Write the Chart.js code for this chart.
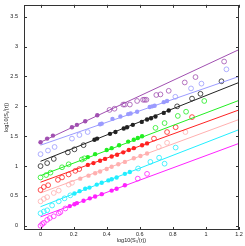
<!DOCTYPE html>
<html>
<head>
<meta charset="utf-8">
<script src="https://cdn.jsdelivr.net/npm/chart.js@4.4.1/dist/chart.umd.min.js"></script>
<style>
  html, body { margin: 0; padding: 0; background: #fff; }
</style>
</head>
<body>
<canvas id="myChart" width="245" height="246"></canvas>
<script>
    // tick labels
    var xTicks = [0, 0.2, 0.4, 0.6, 0.8, 1, 1.2]
    var yTicks = [0, 0.5, 1, 1.5, 2, 2.5, 3, 3.5]

    // fitted lines are drawn from x = 0 to x = 1.2
    var fitX = [0, 1.2]

    // purple
    var purpleFit = [1.40, 2.95]
    var purpleDots = [[0,1.40],[0.04,1.46],[0.075,1.51],[0.19,1.65],[0.22,1.69],[0.27,1.75],[0.343,1.85]]
    var purpleRings = [[0.417,1.94],[0.447,1.96],[0.50,2.03],[0.51,2.03],[0.54,2.03],[0.584,2.09],[0.62,2.11],[0.63,2.11],[0.64,2.11],[0.70,2.19],[0.725,2.20],[0.775,2.26],[0.872,2.40],[0.937,2.49],[1.11,2.75]]

    // lavender
    var lavenderFit = [1.35, 2.50]
    var lavenderDots = [[0.36,1.70],[0.37,1.71],[0.435,1.79],[0.483,1.83],[0.53,1.87],[0.545,1.88],[0.584,1.91],[0.66,1.99],[0.675,2.0],[0.69,2.01],[0.745,2.07],[0.765,2.09]]
    var lavenderRings = [[0,1.20],[0.045,1.26],[0.085,1.32],[0.19,1.46],[0.235,1.52],[0.285,1.57],[0.815,2.16],[0.91,2.30],[0.973,2.38],[1.124,2.62]]

    // black
    var blackFit = [1.08, 2.40]
    var blackDots = [[0.326,1.44],[0.342,1.46],[0.42,1.54],[0.453,1.57],[0.503,1.63],[0.523,1.65],[0.558,1.69],[0.612,1.74],[0.644,1.78],[0.668,1.80],[0.695,1.83],[0.745,1.89],[0.775,1.93]]
    var blackRings = [[0,1.0],[0.04,1.05],[0.08,1.12],[0.165,1.23],[0.205,1.28],[0.26,1.35],[0.826,2.0],[0.916,2.13],[0.967,2.21],[1.094,2.42]]

    // green
    var greenFit = [0.84, 2.10]
    var greenDots = [[0.286,1.15],[0.33,1.20],[0.40,1.27],[0.43,1.30],[0.475,1.35],[0.53,1.41],[0.564,1.44],[0.588,1.47],[0.614,1.50]]
    var greenRings = [[0,0.81],[0.034,0.85],[0.06,0.89],[0.13,0.98],[0.17,1.03],[0.25,1.11],[0.265,1.13],[0.695,1.64],[0.75,1.72],[0.83,1.84],[0.88,1.91],[0.99,2.09]]

    // red
    var redFit = [0.73, 1.94]
    var redDots = [[0.286,1.02],[0.32,1.05],[0.36,1.09],[0.39,1.12],[0.43,1.16],[0.463,1.19],[0.5,1.23],[0.534,1.27],[0.564,1.30],[0.614,1.35],[0.644,1.38]]
    var redRings = [[0,0.60],[0.02,0.65],[0.046,0.68],[0.105,0.77],[0.13,0.81],[0.17,0.86],[0.21,0.92],[0.234,0.95],[0.686,1.46],[0.765,1.57],[0.817,1.65],[0.916,1.82]]

    // pink
    var pinkFit = [0.55, 1.78]
    var pinkDots = [[0.24,0.79],[0.29,0.84],[0.33,0.88],[0.36,0.91],[0.40,0.95],[0.43,0.99],[0.47,1.03],[0.51,1.07],[0.564,1.13],[0.604,1.17],[0.644,1.21]]
    var pinkRings = [[0,0.41],[0.02,0.45],[0.04,0.48],[0.08,0.55],[0.11,0.59],[0.17,0.69],[0.19,0.72],[0.715,1.32],[0.765,1.39],[0.876,1.57]]

    // cyan
    var cyanFit = [0.32, 1.61]
    var cyanDots = [[0.205,0.54],[0.236,0.58],[0.27,0.62],[0.296,0.64],[0.34,0.69],[0.37,0.72],[0.41,0.76],[0.43,0.78],[0.46,0.81],[0.51,0.87],[0.54,0.90]]
    var cyanRings = [[0,0.21],[0.02,0.24],[0.04,0.26],[0.07,0.34],[0.11,0.41],[0.145,0.46],[0.18,0.51],[0.59,0.96],[0.664,1.07],[0.717,1.14],[0.75,1.04],[0.817,1.31]]

    // magenta
    var magentaFit = [0.15, 1.38]
    var magentaDots = [[0.177,0.33],[0.205,0.36],[0.22,0.38],[0.26,0.42],[0.298,0.46],[0.33,0.49],[0.37,0.53],[0.43,0.59],[0.46,0.62],[0.51,0.68]]
    var magentaRings = [[0,0.0],[0.01,0.03],[0.02,0.05],[0.04,0.10],[0.056,0.13],[0.08,0.16],[0.11,0.21],[0.12,0.23],[0.15,0.29],[0.588,0.79],[0.644,0.87]]

    var series = [
        { color: '#a150b1', fit: purpleFit, dots: purpleDots, rings: purpleRings },
        { color: '#9b9bff', fit: lavenderFit, dots: lavenderDots, rings: lavenderRings },
        { color: '#222222', fit: blackFit, dots: blackDots, rings: blackRings },
        { color: '#22ee22', fit: greenFit, dots: greenDots, rings: greenRings },
        { color: '#ff2222', fit: redFit, dots: redDots, rings: redRings },
        { color: '#ffb0b0', fit: pinkFit, dots: pinkDots, rings: pinkRings },
        { color: '#22eeff', fit: cyanFit, dots: cyanDots, rings: cyanRings },
        { color: '#ff22ff', fit: magentaFit, dots: magentaDots, rings: magentaRings }
    ]

    function toXY(list) {
        return list.map(function(p) { return { x: p[0], y: p[1] } })
    }

    var datasets = []
    series.forEach(function(s) {
        datasets.push({
            type: 'line',
            data: fitX.map(function(x, i) { return { x: x, y: s.fit[i] } }),
            borderColor: s.color,
            borderWidth: 1,
            pointRadius: 0,
            fill: false
        })
        datasets.push({
            type: 'scatter',
            data: toXY(s.dots),
            backgroundColor: s.color,
            borderColor: s.color,
            borderWidth: 0,
            pointRadius: 2.2
        })
        datasets.push({
            type: 'scatter',
            data: toXY(s.rings),
            backgroundColor: 'rgba(0,0,0,0)',
            borderColor: s.color,
            borderWidth: 0.8,
            pointRadius: 2.4
        })
    })

    // matlab style box with ticks pointing inwards
    var boxTicks = {
        id: 'boxTicks',
        afterDraw: function(chart) {
            var ctx = chart.ctx
            var a = chart.chartArea
            var xs = chart.scales.x
            var ys = chart.scales.y
            ctx.save()
            ctx.strokeStyle = '#333'
            ctx.lineWidth = 1
            ctx.beginPath()
            xTicks.forEach(function(v) {
                var px = Math.round(xs.getPixelForValue(v)) + 0.5
                ctx.moveTo(px, a.bottom); ctx.lineTo(px, a.bottom - 3)
                ctx.moveTo(px, a.top); ctx.lineTo(px, a.top + 3)
            })
            yTicks.forEach(function(v) {
                var py = Math.round(ys.getPixelForValue(v)) + 0.5
                ctx.moveTo(a.left, py); ctx.lineTo(a.left + 3, py)
                ctx.moveTo(a.right, py); ctx.lineTo(a.right - 3, py)
            })
            ctx.stroke()
            ctx.strokeRect(Math.round(a.left) + 0.5, Math.round(a.top) + 0.5,
                Math.round(a.right - a.left) - 1, Math.round(a.bottom - a.top) - 1)
            ctx.restore()
        }
    }

    var tickFont = { family: 'Liberation Sans', size: 5.5 }

    var ctx = document.getElementById('myChart').getContext('2d');
    var myChart = new Chart(ctx, {
        type: 'scatter',
        data: { datasets: datasets },
        options: {
            responsive: false,
            animation: false,
            devicePixelRatio: 1,
            layout: { padding: { top: 2, right: 6, left: 0, bottom: 0 } },
            plugins: {
                legend: { display: false },
                tooltip: { enabled: false }
            },
            scales: {
                x: {
                    type: 'linear',
                    min: -0.1,
                    max: 1.2,
                    grid: { display: false, drawTicks: false },
                    border: { display: false },
                    afterBuildTicks: function(scale) {
                        scale.ticks = xTicks.map(function(v) { return { value: v } })
                    },
                    afterFit: function(scale) {
                        scale.height = 16
                        scale.paddingLeft = 0
                        scale.paddingRight = 0
                    },
                    ticks: {
                        color: '#222',
                        font: tickFont,
                        padding: 1,
                        maxRotation: 0,
                        autoSkip: false,
                        callback: function(v) { return String(v) }
                    },
                    title: {
                        display: true,
                        text: 'log10(S\u2083\u02E1(r))',
                        color: '#222',
                        font: tickFont,
                        padding: { top: 0, bottom: 2 }
                    }
                },
                y: {
                    type: 'linear',
                    min: -0.07,
                    max: 3.7,
                    grid: { display: false, drawTicks: false },
                    border: { display: false },
                    afterBuildTicks: function(scale) {
                        scale.ticks = yTicks.map(function(v) { return { value: v } })
                    },
                    afterFit: function(scale) {
                        scale.width = 24
                        scale.paddingTop = 0
                        scale.paddingBottom = 0
                    },
                    ticks: {
                        color: '#222',
                        font: tickFont,
                        padding: 6,
                        autoSkip: false,
                        callback: function(v) { return String(v) }
                    },
                    title: {
                        display: true,
                        text: 'log10(S\u209A\u02E1(r))',
                        color: '#222',
                        font: tickFont,
                        padding: { top: 3, bottom: 0 }
                    }
                }
            }
        },
        plugins: [boxTicks]
    });
</script>
</body>
</html>
